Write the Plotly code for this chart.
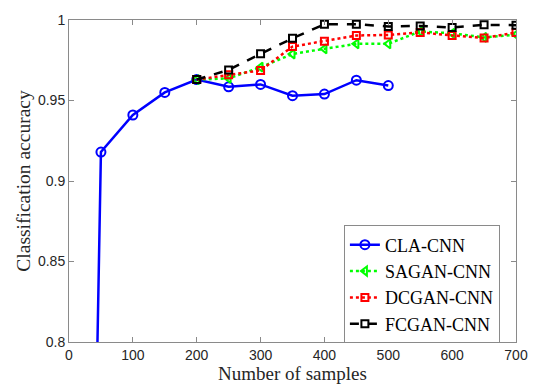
import plotly.graph_objects as go

x_cla = [40, 50, 100, 150, 200, 250, 300, 350, 400, 450, 500]
y_cla = [0.70, 0.918, 0.941, 0.955, 0.963, 0.9585, 0.960, 0.953, 0.954, 0.9626, 0.9593]

x_gan = [200, 250, 300, 350, 400, 450, 500, 550, 600, 650, 700]
y_sagan = [0.963, 0.9637, 0.9707, 0.9789, 0.9821, 0.9852, 0.9852, 0.9929, 0.9917, 0.9892, 0.9909]
y_dcgan = [0.963, 0.966, 0.9687, 0.9835, 0.9868, 0.9904, 0.9907, 0.9923, 0.9904, 0.9888, 0.9923]
y_fcgan = [0.963, 0.969, 0.979, 0.9886, 0.9974, 0.9974, 0.996, 0.9963, 0.9953, 0.997, 0.9968]

x_ticks = [0, 100, 200, 300, 400, 500, 600, 700]
y_ticks = [0.8, 0.85, 0.9, 0.95, 1]
y_ticklabels = ["0.8", "0.85", "0.9", "0.95", "1"]

fig = go.Figure()
fig.add_trace(go.Scatter(x=x_cla, y=y_cla, name="CLA-CNN", mode="lines+markers",
                         line=dict(color="#0000ff", width=2.5),
                         marker=dict(symbol="circle-open", size=9, color="#0000ff", line=dict(width=2))))
fig.add_trace(go.Scatter(x=x_gan, y=y_sagan, name="SAGAN-CNN", mode="lines+markers",
                         line=dict(color="#00ff00", width=2.5, dash="dot"),
                         marker=dict(symbol="triangle-left-open", size=8, color="#00ff00", line=dict(width=2))))
fig.add_trace(go.Scatter(x=x_gan, y=y_dcgan, name="DCGAN-CNN", mode="lines+markers",
                         line=dict(color="#ff0000", width=2.5, dash="dot"),
                         marker=dict(symbol="square-open", size=7, color="#ff0000", line=dict(width=2))))
fig.add_trace(go.Scatter(x=x_gan, y=y_fcgan, name="FCGAN-CNN", mode="lines+markers",
                         line=dict(color="#000000", width=2.5, dash="dash"),
                         marker=dict(symbol="square-open", size=7, color="#000000", line=dict(width=2))))

axis_common = dict(showline=True, linecolor="#8a8a8a", linewidth=1, mirror="ticks",
                   ticks="inside", ticklen=5, tickcolor="#8a8a8a", showgrid=False, zeroline=False,
                   tickfont=dict(family="Liberation Sans, Arial", size=14, color="#262626"))

fig.update_layout(
    width=540, height=391,
    margin=dict(l=69, r=17, t=14, b=48),
    paper_bgcolor="white", plot_bgcolor="white",
    xaxis=dict(range=[0, 700], tickvals=x_ticks,
               title=dict(text="Number of samples", standoff=3,
                          font=dict(family="Liberation Serif, Times New Roman", size=19, color="#262626")),
               **axis_common),
    yaxis=dict(range=[0.8, 1], tickvals=y_ticks, ticktext=y_ticklabels,
               title=dict(text="Classification accuracy", standoff=2,
                          font=dict(family="Liberation Serif, Times New Roman", size=19.5, color="#262626")),
               **axis_common),
    legend=dict(x=0.615, y=0.362, xanchor="left", yanchor="top",
                bgcolor="white", bordercolor="#8a8a8a", borderwidth=1,
                font=dict(family="Liberation Serif, Times New Roman", size=18, color="#000000"),
                itemwidth=30, tracegroupgap=0),
    showlegend=True,
)

fig.write_html("out.html")
